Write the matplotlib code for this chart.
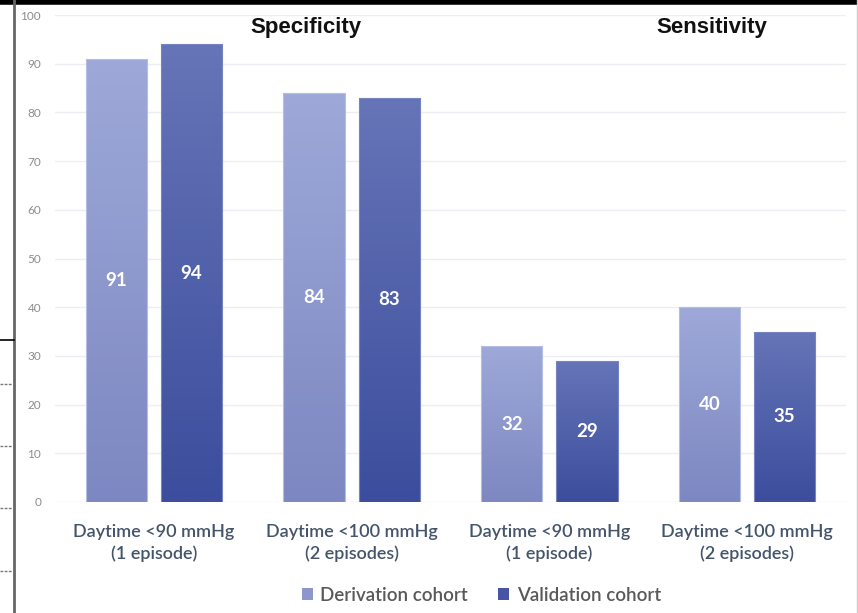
import numpy as np
import matplotlib
matplotlib.use('Agg')
import matplotlib.pyplot as plt
from matplotlib.colors import LinearSegmentedColormap
from matplotlib.lines import Line2D
from matplotlib.patches import Patch

categories = ['Daytime <90 mmHg\n(1 episode)', 'Daytime <100 mmHg\n(2 episodes)',
              'Daytime <90 mmHg\n(1 episode)', 'Daytime <100 mmHg\n(2 episodes)']
derivation = [91, 84, 32, 40]
validation = [94, 83, 29, 35]
series_names = ['Derivation cohort', 'Validation cohort']
panel_titles = ['Specificity', 'Sensitivity']

plt.rcParams['font.family'] = ['Lato', 'DejaVu Sans']

fig = plt.figure(figsize=(8.58, 6.13), dpi=100)
ax = fig.add_axes([55 / 858, 1 - 502 / 613, (846 - 55) / 858, (502 - 15) / 613])

deriv_cmap = LinearSegmentedColormap.from_list('d', ['#7d87c1', '#9ea9d9'])
valid_cmap = LinearSegmentedColormap.from_list('v', ['#3c4d9d', '#6675b7'])

x = np.arange(len(categories))
w = 0.31
off = 0.19
grad = np.linspace(0, 1, 256).reshape(-1, 1)

for vals, dx, cmap, edge in [(derivation, -off, deriv_cmap, '#b4bde3'),
                             (validation, off, valid_cmap, '#7784c2')]:
    bars = ax.bar(x + dx, vals, w, facecolor='none', edgecolor=edge, lw=0.8, zorder=3)
    for b, v in zip(bars, vals):
        x0 = b.get_x()
        im = ax.imshow(grad, extent=[x0, x0 + w, 0, v], origin='lower', aspect='auto',
                       cmap=cmap, zorder=2)
        im.set_clip_path(b)
        ax.text(x0 + w / 2, v / 2, str(v), ha='center', va='center', color='white',
                fontsize=13.5, fontweight='bold', zorder=4)

ax.set_xlim(-0.5, 3.5)
ax.set_ylim(0, 100)
ax.set_yticks(range(0, 101, 10))
ax.yaxis.grid(True, color='#eceef4', lw=1)
ax.set_axisbelow(True)
for s in ax.spines.values():
    s.set_visible(False)
ax.tick_params(axis='y', length=0, pad=10, labelsize=8.5, labelcolor='#8c8c8c')
ax.set_xticks(x)
ax.set_xticklabels(categories, fontsize=13, color='#44546a', fontweight='semibold',
                   linespacing=1.35)
ax.tick_params(axis='x', length=0, pad=16)

ax.text(0.77, 97.5, panel_titles[0], ha='center', va='center', fontsize=16,
        fontweight='bold', family='Liberation Sans', color='#111111')
ax.text(2.82, 97.5, panel_titles[1], ha='center', va='center', fontsize=16,
        fontweight='bold', family='Liberation Sans', color='#111111')

handles = [Patch(facecolor='#8d97cd'), Patch(facecolor='#4656a5')]
leg = fig.legend(handles, series_names, loc='center', bbox_to_anchor=(0.561, 0.029), ncol=2,
                 frameon=False, fontsize=13.5, labelcolor='#595959', handlelength=0.6,
                 handleheight=0.6, handletextpad=0.4, columnspacing=1.6)
for t in leg.get_texts():
    t.set_fontweight('semibold')

# frame bits around the screenshot
fig.add_artist(Line2D([0, 1], [1 - 2 / 613, 1 - 2 / 613], color='black', lw=4, transform=fig.transFigure))
fig.add_artist(Line2D([14 / 858, 14 / 858], [0, 1], color='#666666', lw=2, transform=fig.transFigure))
fig.add_artist(Line2D([857 / 858, 857 / 858], [0, 1], color='#cccccc', lw=1, transform=fig.transFigure))
fig.add_artist(Line2D([0, 14 / 858], [1 - 340 / 613, 1 - 340 / 613], color='black', lw=1.2, transform=fig.transFigure))
for yy in [384, 446, 508, 571]:
    fig.add_artist(Line2D([0, 13 / 858], [1 - yy / 613, 1 - yy / 613], color='#777777', lw=1,
                          ls=(0, (2, 1)), transform=fig.transFigure))

fig.savefig('out.png', dpi=100)
